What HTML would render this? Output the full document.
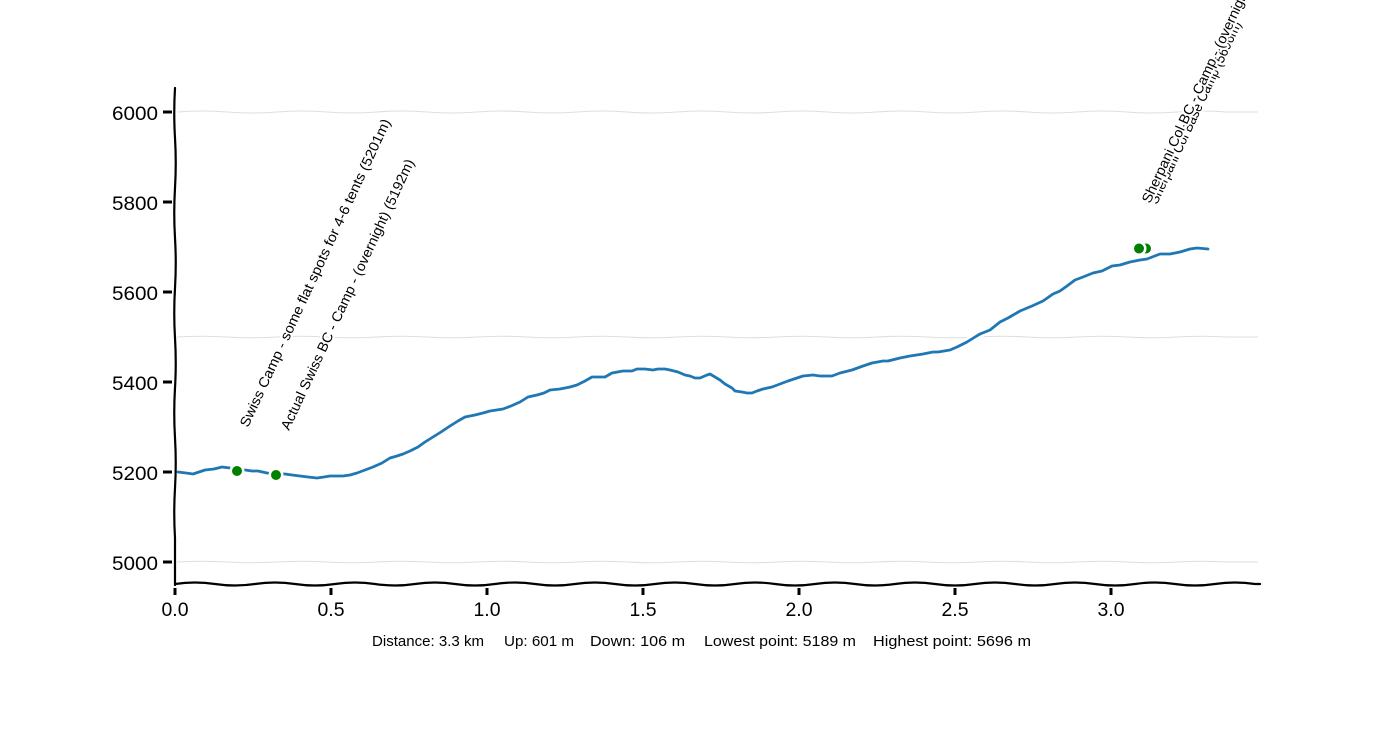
<!DOCTYPE html>
<html>
<head>
<meta charset="utf-8">
<style>
  html, body { margin: 0; padding: 0; background: #ffffff; }
  svg { display: block; }
  text { font-family: "Liberation Sans", "DejaVu Sans", sans-serif; fill: #000; }
</style>
</head>
<body>
<svg width="1400" height="750" viewBox="0 0 1400 750" xmlns="http://www.w3.org/2000/svg">
  <rect x="0" y="0" width="1400" height="750" fill="#ffffff"/>

  <!-- gridlines (wavy, light gray) -->
  <g fill="none" stroke="#dedede" stroke-width="1.1">
    <path d="M177,112 Q202,110 227,112 T277,112 T327,112 T377,112 T427,112 T477,112 T527,112 T577,112 T627,112 T677,112 T727,112 T777,112 T827,112 T877,112 T927,112 T977,112 T1027,112 T1077,112 T1127,112 T1177,112 T1227,112 L1258,112"/>
    <path d="M177,337 Q202,335.5 227,337 T277,337 T327,337 T377,337 T427,337 T477,337 T527,337 T577,337 T627,337 T677,337 T727,337 T777,337 T827,337 T877,337 T927,337 T977,337 T1027,337 T1077,337 T1127,337 T1177,337 T1227,337 L1258,337"/>
    <path d="M177,562 Q202,560.5 227,562 T277,562 T327,562 T377,562 T427,562 T477,562 T527,562 T577,562 T627,562 T677,562 T727,562 T777,562 T827,562 T877,562 T927,562 T977,562 T1027,562 T1077,562 T1127,562 T1177,562 T1227,562 L1258,562"/>
  </g>

  <!-- elevation profile: white halo + blue line -->
  <g fill="none" stroke-linejoin="round" stroke-linecap="round">
    <polyline stroke="#ffffff" stroke-width="7.5" points="178,472 186,473 193,474 199,472 205,470 214,469 222,467 230,468 237,470 245,470 252,471 258,471 267,473 276,474 285,474 292,475 300,476 308,477 317,478 324,477 330,476 343,476 350,475 357,473 365,470 373,467 382,463 390,458 397,456 403,454 410,451 418,447 425,442 433,437 441,432 450,426 458,421 465,417 475,415 483,413 490,411 503,409 511,406 520,402 528,397 537,395 544,393 550,390 560,389 570,387 577,385 585,381 592,377 605,377 612,373 623,371 632,371 637,369 645,369 653,370 658,369 665,369 670,370 678,372 685,375 690,376 695,378 700,378 707,375 710,374 715,377 720,380 725,384 732,388 735,391 742,392 747,393 752,393 757,391 763,389 772,387 780,384 788,381 797,378 803,376 813,375 820,376 827,376 832,376 840,373 852,370 863,366 872,363 883,361 888,361 900,358 910,356 923,354 933,352 938,352 950,350 957,347 967,342 975,337 980,334 990,330 1000,322 1008,318 1020,311 1032,306 1043,301 1053,294 1060,291 1067,286 1075,280 1083,277 1093,273 1102,271 1112,266 1120,265 1130,262 1140,260 1147,259 1160,254 1170,254 1180,252 1190,249 1197,248 1208,249"/>
    <polyline stroke="#1f77b4" stroke-width="2.8" points="178,472 186,473 193,474 199,472 205,470 214,469 222,467 230,468 237,470 245,470 252,471 258,471 267,473 276,474 285,474 292,475 300,476 308,477 317,478 324,477 330,476 343,476 350,475 357,473 365,470 373,467 382,463 390,458 397,456 403,454 410,451 418,447 425,442 433,437 441,432 450,426 458,421 465,417 475,415 483,413 490,411 503,409 511,406 520,402 528,397 537,395 544,393 550,390 560,389 570,387 577,385 585,381 592,377 605,377 612,373 623,371 632,371 637,369 645,369 653,370 658,369 665,369 670,370 678,372 685,375 690,376 695,378 700,378 707,375 710,374 715,377 720,380 725,384 732,388 735,391 742,392 747,393 752,393 757,391 763,389 772,387 780,384 788,381 797,378 803,376 813,375 820,376 827,376 832,376 840,373 852,370 863,366 872,363 883,361 888,361 900,358 910,356 923,354 933,352 938,352 950,350 957,347 967,342 975,337 980,334 990,330 1000,322 1008,318 1020,311 1032,306 1043,301 1053,294 1060,291 1067,286 1075,280 1083,277 1093,273 1102,271 1112,266 1120,265 1130,262 1140,260 1147,259 1160,254 1170,254 1180,252 1190,249 1197,248 1208,249"/>
  </g>

  <!-- markers (green, white halo) -->
  <g fill="#008000" stroke="#ffffff" stroke-width="5" paint-order="stroke">
    <circle cx="237" cy="471" r="5"/>
    <circle cx="276" cy="475" r="5"/>
    <circle cx="1146" cy="248.5" r="5"/>
    <circle cx="1139" cy="248.5" r="5"/>
  </g>

  <!-- annotations -->
  <g font-size="14" stroke="#ffffff" stroke-width="4.5" stroke-linejoin="round" paint-order="stroke">
    <text transform="translate(248,428) rotate(-65)" textLength="338" lengthAdjust="spacingAndGlyphs">Swiss Camp - some flat spots for 4-6 tents (5201m)</text>
    <text transform="translate(289,431) rotate(-65)" textLength="297" lengthAdjust="spacingAndGlyphs">Actual Swiss BC - Camp - (overnight) (5192m)</text>
    <text transform="translate(1157,205) rotate(-65)" textLength="200" lengthAdjust="spacingAndGlyphs">Sherpani Col Base Camp (5696m)</text>
    <text transform="translate(1150,204) rotate(-65)" textLength="297" lengthAdjust="spacingAndGlyphs">Sherpani Col BC - Camp - (overnight) (5696m)</text>
  </g>

  <!-- spines (wavy) -->
  <g fill="none" stroke="#000000" stroke-width="2.2" stroke-linecap="round">
    <path d="M175,88 Q173.5,113 175,138 T175,188 T175,238 T175,288 T175,338 T175,388 T175,438 T175,488 T175,538 L175,585"/>
    <path d="M175,584 Q195,581 215,584 T255,584 T295,584 T335,584 T375,584 T415,584 T455,584 T495,584 T535,584 T575,584 T615,584 T655,584 T695,584 T735,584 T775,584 T815,584 T855,584 T895,584 T935,584 T975,584 T1015,584 T1055,584 T1095,584 T1135,584 T1175,584 T1215,584 T1255,584 L1260,584"/>
  </g>

  <!-- y ticks -->
  <g stroke="#000000" stroke-width="3">
    <line x1="163" y1="112" x2="172" y2="112"/>
    <line x1="163" y1="202" x2="172" y2="202"/>
    <line x1="163" y1="292" x2="172" y2="292"/>
    <line x1="163" y1="382" x2="172" y2="382"/>
    <line x1="163" y1="472" x2="172" y2="472"/>
    <line x1="163" y1="562" x2="172" y2="562"/>
  </g>
  <g font-size="19">
    <text x="112" y="120" textLength="46" lengthAdjust="spacingAndGlyphs">6000</text>
    <text x="112" y="210" textLength="46" lengthAdjust="spacingAndGlyphs">5800</text>
    <text x="112" y="300" textLength="46" lengthAdjust="spacingAndGlyphs">5600</text>
    <text x="112" y="390" textLength="46" lengthAdjust="spacingAndGlyphs">5400</text>
    <text x="112" y="480" textLength="46" lengthAdjust="spacingAndGlyphs">5200</text>
    <text x="112" y="570" textLength="46" lengthAdjust="spacingAndGlyphs">5000</text>
  </g>

  <!-- x ticks -->
  <g stroke="#000000" stroke-width="3">
    <line x1="175" y1="588" x2="175" y2="595"/>
    <line x1="331" y1="588" x2="331" y2="595"/>
    <line x1="487" y1="588" x2="487" y2="595"/>
    <line x1="643" y1="588" x2="643" y2="595"/>
    <line x1="799" y1="588" x2="799" y2="595"/>
    <line x1="955" y1="588" x2="955" y2="595"/>
    <line x1="1111" y1="588" x2="1111" y2="595"/>
  </g>
  <g font-size="19">
    <text x="161.5" y="616" textLength="27" lengthAdjust="spacingAndGlyphs">0.0</text>
    <text x="317.5" y="616" textLength="27" lengthAdjust="spacingAndGlyphs">0.5</text>
    <text x="473.5" y="616" textLength="27" lengthAdjust="spacingAndGlyphs">1.0</text>
    <text x="629.5" y="616" textLength="27" lengthAdjust="spacingAndGlyphs">1.5</text>
    <text x="785.5" y="616" textLength="27" lengthAdjust="spacingAndGlyphs">2.0</text>
    <text x="941.5" y="616" textLength="27" lengthAdjust="spacingAndGlyphs">2.5</text>
    <text x="1097.5" y="616" textLength="27" lengthAdjust="spacingAndGlyphs">3.0</text>
  </g>

  <!-- summary line -->
  <g font-size="15">
    <text x="372" y="646" textLength="112" lengthAdjust="spacingAndGlyphs">Distance: 3.3 km</text>
    <text x="504" y="646" textLength="70" lengthAdjust="spacingAndGlyphs">Up: 601 m</text>
    <text x="590" y="646" textLength="95" lengthAdjust="spacingAndGlyphs">Down: 106 m</text>
    <text x="704" y="646" textLength="152" lengthAdjust="spacingAndGlyphs">Lowest point: 5189 m</text>
    <text x="873" y="646" textLength="158" lengthAdjust="spacingAndGlyphs">Highest point: 5696 m</text>
  </g>
</svg>
</body>
</html>
